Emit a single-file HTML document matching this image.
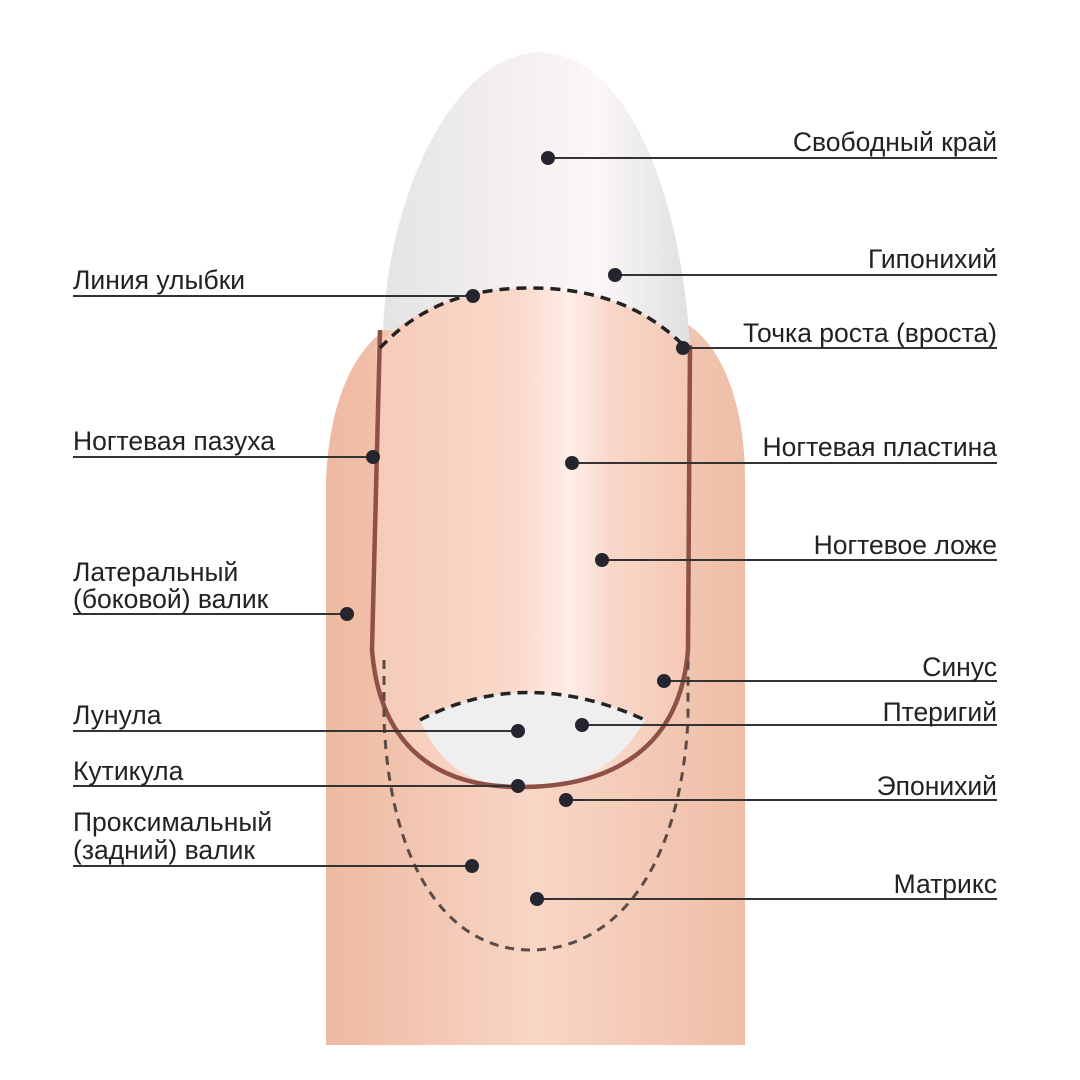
<!DOCTYPE html>
<html><head><meta charset="utf-8"><style>
html,body{margin:0;padding:0;background:#fff}
svg{display:block}
text{font-family:"Liberation Sans",sans-serif;font-size:26.5px;fill:#222}
</style></head><body>
<svg width="1080" height="1080" viewBox="0 0 1080 1080" xmlns="http://www.w3.org/2000/svg">
<defs>
<linearGradient id="fg" x1="0" x2="1" y1="0" y2="0">
<stop offset="0" stop-color="#eeb9a1"/><stop offset="0.5" stop-color="#f8d6c6"/><stop offset="1" stop-color="#efbea7"/>
</linearGradient>
<linearGradient id="ng" x1="0" x2="1" y1="0" y2="0">
<stop offset="0" stop-color="#e4e4e4"/><stop offset="0.5" stop-color="#f7f2f1"/><stop offset="0.7" stop-color="#fbf7f6"/><stop offset="1" stop-color="#e0e0e0"/>
</linearGradient>
<linearGradient id="pg" x1="0" x2="1" y1="0" y2="0">
<stop offset="0" stop-color="#f6cbb8"/><stop offset="0.45" stop-color="#fad9ca"/><stop offset="0.62" stop-color="#fdeee7"/><stop offset="0.75" stop-color="#f9d7c8"/><stop offset="1" stop-color="#f4c8b4"/>
</linearGradient>
</defs>
<path d="M326,1045 L326,480 C330,390 360,340 400,320 L680,320 C720,340 745,400 745,480 L745,1045 Z" fill="url(#fg)"/>
<path d="M383,330 C388,200 450,55 540,52 C630,55 682,200 690,348 Z" fill="url(#ng)"/>
<path d="M376,345 C420,305 470,288 530,288 C600,288 650,310 688,350 L690,650 C680,740 620,787 520,787 C430,787 385,740 374,660 Z" fill="url(#pg)"/>
<path d="M420,720 Q525,665 645,720 C620,765 580,787 520,787 C470,787 440,765 420,720 Z" fill="#efefef"/>
<path d="M380,330 L372,650 C380,750 440,787 520,787 C610,787 680,750 688,650 L690,345" fill="none" stroke="#8f5048" stroke-width="4.5"/>
<path d="M380,348 C420,305 470,288 530,288 C600,288 650,310 688,350" fill="none" stroke="#222" stroke-width="3.5" stroke-dasharray="10 7"/>
<path d="M420,720 Q525,665 645,720" fill="none" stroke="#222" stroke-width="3.5" stroke-dasharray="10 7"/>
<path d="M384,660 L384,720 C390,870 450,950 530,950 C615,950 680,870 688,720 L688,660" fill="none" stroke="#5a4a48" stroke-width="3" stroke-dasharray="9 7"/>
<g stroke="#333" stroke-width="2">
<line x1="548" y1="158" x2="997" y2="158"/>
<line x1="615" y1="275" x2="997" y2="275"/>
<line x1="683" y1="348" x2="997" y2="348"/>
<line x1="572" y1="463" x2="997" y2="463"/>
<line x1="602" y1="560" x2="997" y2="560"/>
<line x1="664" y1="681" x2="997" y2="681"/>
<line x1="582" y1="725" x2="997" y2="725"/>
<line x1="566" y1="800" x2="997" y2="800"/>
<line x1="537" y1="899" x2="997" y2="899"/>
<line x1="73" y1="296" x2="473" y2="296"/>
<line x1="73" y1="457" x2="373" y2="457"/>
<line x1="73" y1="614" x2="347" y2="614"/>
<line x1="73" y1="731" x2="518" y2="731"/>
<line x1="73" y1="786" x2="518" y2="786"/>
<line x1="73" y1="866" x2="472" y2="866"/>
</g>
<g fill="#252530">
<circle cx="548" cy="158" r="7"/><circle cx="615" cy="275" r="7"/><circle cx="683" cy="348" r="7"/>
<circle cx="572" cy="463" r="7"/><circle cx="602" cy="560" r="7"/><circle cx="664" cy="681" r="7"/>
<circle cx="582" cy="725" r="7"/><circle cx="566" cy="800" r="7"/><circle cx="537" cy="899" r="7"/>
<circle cx="473" cy="296" r="7"/><circle cx="373" cy="457" r="7"/><circle cx="347" cy="614" r="7"/>
<circle cx="518" cy="731" r="7"/><circle cx="518" cy="786" r="7"/><circle cx="472" cy="866" r="7"/>
</g>
<g text-anchor="end">
<text x="997" y="151">Свободный край</text>
<text x="997" y="268">Гипонихий</text>
<text x="997" y="342">Точка роста (вроста)</text>
<text x="997" y="456">Ногтевая пластина</text>
<text x="997" y="554">Ногтевое ложе</text>
<text x="997" y="676">Синус</text>
<text x="997" y="721">Птеригий</text>
<text x="997" y="795">Эпонихий</text>
<text x="997" y="893">Матрикс</text>
</g>
<text x="73" y="289">Линия улыбки</text>
<text x="73" y="450">Ногтевая пазуха</text>
<text x="73" y="581">Латеральный</text>
<text x="73" y="608">(боковой) валик</text>
<text x="73" y="724">Лунула</text>
<text x="73" y="780">Кутикула</text>
<text x="73" y="831">Проксимальный</text>
<text x="73" y="859">(задний) валик</text>
</svg>
</body></html>
